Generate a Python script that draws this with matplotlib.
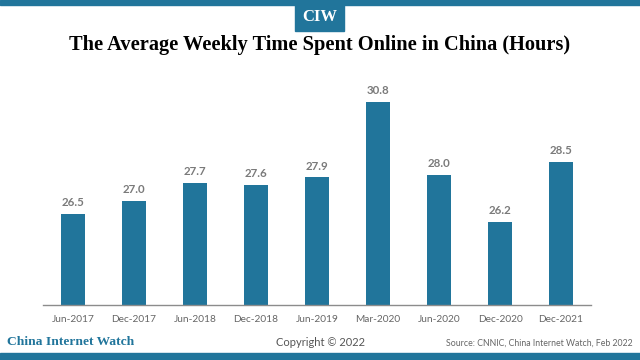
import matplotlib
matplotlib.use("Agg")
import matplotlib.pyplot as plt
from matplotlib.patches import Rectangle

periods = ["Jun-2017", "Dec-2017", "Jun-2018", "Dec-2018", "Jun-2019",
           "Mar-2020", "Jun-2020", "Dec-2020", "Dec-2021"]
hours = [26.5, 27.0, 27.7, 27.6, 27.9, 30.8, 28.0, 26.2, 28.5]

teal = "#21759b"

fig = plt.figure(figsize=(6.4, 3.6), dpi=100)
ax = fig.add_axes([43/640, 1 - 305/360, 548/640, 260.5/360])
ax.set_facecolor("none")

x = list(range(len(periods)))
ax.bar(x, hours, width=0.39, color=teal, bottom=0)
for xi, v in zip(x, hours):
    ax.text(xi, v + 0.22, f"{v:.1f}", ha="center", va="bottom",
            fontsize=8.3, fontweight="bold", color="#7a7a7a", family="Lato")

ax.set_ylim(23, 33)
ax.set_xlim(-0.49, 8.49)
ax.set_xticks(x)
ax.set_xticklabels(periods, fontsize=7.3, color="#666666", family="Lato")
ax.tick_params(axis="x", length=0, pad=7)
ax.set_yticks([])
for s in ["top", "right", "left"]:
    ax.spines[s].set_visible(False)
ax.spines["bottom"].set_color("#8c8c8c")
ax.spines["bottom"].set_linewidth(1)

# header band and logo box
fig.patches.append(Rectangle((0, 1 - 5/360), 1, 5/360, transform=fig.transFigure,
                             color=teal, zorder=0))
fig.patches.append(Rectangle((295/640, 1 - 31/360), 49/640, 31/360,
                             transform=fig.transFigure, color=teal, zorder=0))
fig.text(320/640, 1 - 17/360, "CIW", ha="center", va="center", color="white",
         fontsize=12, fontweight="bold", family="Liberation Serif")

fig.text(320/640, 1 - 45/360, "The Average Weekly Time Spent Online in China (Hours)",
         ha="center", va="center", fontsize=14.7, fontweight="bold",
         family="Liberation Serif", color="black")

# footer
fig.text(7/640, 1 - 342/360, "China Internet Watch", ha="left", va="center",
         fontsize=9.7, fontweight="bold", family="Liberation Serif", color=teal)
fig.text(320/640, 1 - 343/360, "Copyright © 2022", ha="center", va="center",
         fontsize=8, family="Lato", color="#555555")
fig.text(633/640, 1 - 343/360, "Source: CNNIC, China Internet Watch, Feb 2022",
         ha="right", va="center", fontsize=6.3, family="Lato", color="#666666")
fig.patches.append(Rectangle((0, 0), 1, 7/360, transform=fig.transFigure,
                             color=teal, zorder=0))

fig.savefig("out.png", dpi=100)
